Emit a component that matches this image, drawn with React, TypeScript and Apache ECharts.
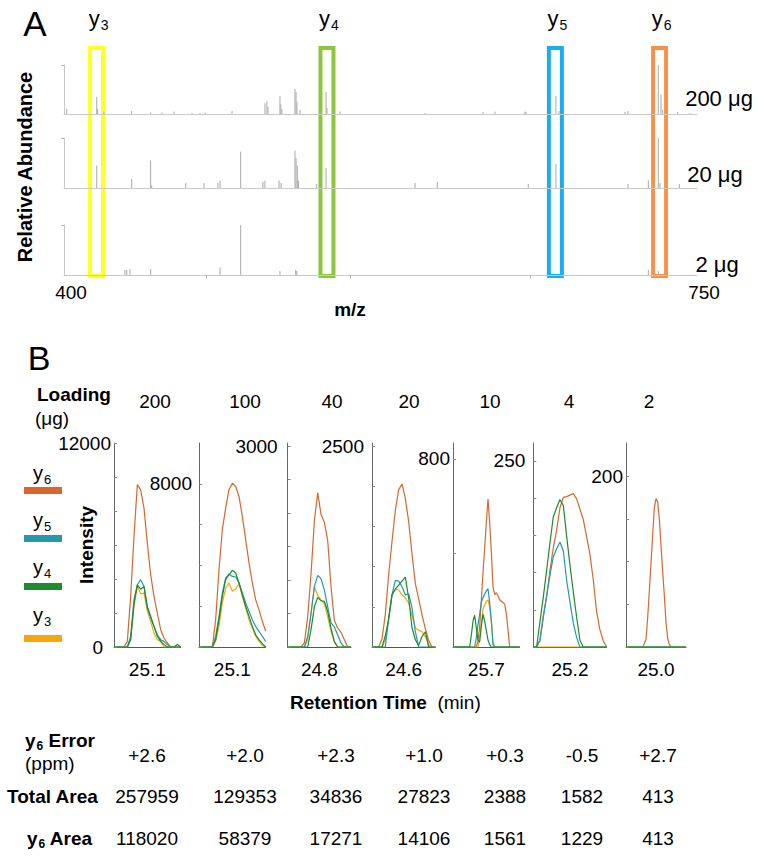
import React, { useEffect, useRef } from 'react';
import * as echarts from 'echarts';

const FONT = '"Liberation Sans", Arial, Helvetica, sans-serif';

// ---------------- Panel A: MS/MS spectra (m/z, relative abundance %) ----------------
const specMzMin = 400;
const specMzMax = 750;
const specLabelMz = [400, 750];
const specTickMz = [478.5, 558.2, 657.9];
const spectrumLabels = ['200 μg', '20 μg', '2 μg'];

const mz200 = [401.5, 418.1, 418.6, 422.1, 437.4, 447.9, 454.2, 460.8, 470.8, 475.2, 478.0, 492.9, 511.1, 512.2, 512.8, 519.4, 519.9, 520.5, 527.7, 528.3, 528.8, 530.5, 544.9, 545.4, 552.6, 599.6, 631.7, 638.3, 654.9, 655.4, 672.0, 673.7, 710.2, 711.8, 728.6, 730.1, 731.0, 739.3, 746.1];
const ab200 = [10, 35, 10, 5, 6, 3, 3, 5, 2, 2, 3, 6, 22, 26, 15, 36, 20, 10, 51, 45, 25, 8, 45, 12, 5, 2, 4, 5, 5, 4, 37, 6, 4, 6, 100, 40, 8, 4, 2];

const mz20 = [418.1, 437.4, 447.9, 448.5, 467.3, 477.4, 485.1, 486.3, 497.7, 510.0, 511.1, 518.9, 520.0, 527.7, 528.3, 529.0, 529.7, 539.7, 544.9, 594.1, 606.4, 656.7, 672.0, 711.8, 723.1, 728.6, 729.5, 740.2];
const ab20 = [45, 18, 55, 5, 10, 10, 10, 15, 73, 12, 15, 15, 10, 75, 60, 45, 15, 8, 40, 10, 12, 8, 48, 8, 15, 100, 10, 8];

const mz2 = [433.7, 434.7, 436.5, 447.9, 486.3, 497.7, 519.4, 528.1, 528.7, 723.1, 728.6];
const ab2 = [10, 10, 12, 12, 15, 100, 8, 10, 8, 10, 8];

const fragmentNumbers = ['3', '4', '5', '6'];
const fragmentMz = [418.0, 545.4, 671.7, 729.3];
const fragmentBoxColors = ['#FFFF22', '#8CC63F', '#1AAEEE', '#F7924A'];

// ---------------- Panel B: extracted ion chromatograms ----------------
const ionNames = ['y3', 'y4', 'y5', 'y6'];
const ionColors = ['#F9A60C', '#1E8B2E', '#2598AF', '#D9662C'];

const loadings = ['200', '100', '40', '20', '10', '4', '2'];
const rtApex = [25.1, 25.1, 24.8, 24.6, 25.7, 25.2, 25.0];
const rtStart = [24.9, 24.9, 24.61, 24.41, 25.5, 24.98, 24.82];
const rtEnd = [25.3, 25.3, 24.99, 24.79, 25.9, 25.42, 25.18];
const scanStep = [0.02, 0.02, 0.02, 0.02, 0.01, 0.02, 0.01];
const intensityMax = [12000, 10000, 3045, 2540, 868, 274, 239];
const intensityTicks = [
  [0, 2000, 4000, 6000, 8000, 10000, 12000],
  [0, 2000, 4000, 6000, 8000],
  [0, 500, 1000, 1500, 2000, 2500, 3000],
  [0, 500, 1000, 1500, 2000, 2500],
  [0, 400, 800],
  [0, 50, 100, 150, 200, 250],
  [0, 50, 100, 150, 200],
];
const intensityLabels = [[0, 12000], [8000], [3000], [2500], [800], [250], [200]];

// order inside each panel: y3, y4, y5, y6
const xic200 = [
  [0, 0, 0, 0, 0, 430, 2390, 3560, 3130, 3170, 2100, 1510, 820, 430, 330, 0, 0, 0, 0, 0, 0],
  [0, 0, 0, 0, 0, 430, 2580, 3660, 3400, 3560, 2390, 1800, 1210, 630, 330, 140, 0, 0, 0, 150, 0],
  [0, 0, 0, 0, 0, 630, 2780, 3660, 3960, 3560, 2290, 1700, 1210, 720, 430, 330, 140, 0, 0, 0, 0],
  [0, 0, 0, 0, 330, 2980, 6500, 9550, 9240, 8170, 6110, 4250, 2980, 2000, 1020, 530, 235, 0, 0, 0, 0],
];
const xic100 = [
  [0, 0, 0, 0, 0, 280, 1010, 2160, 2890, 3140, 2730, 2840, 3100, 2480, 1910, 1340, 930, 520, 280, 70, 0],
  [0, 0, 0, 0, 0, 360, 1340, 2480, 3300, 3540, 3760, 3630, 3140, 2560, 1990, 1500, 1010, 600, 360, 160, 0],
  [0, 0, 0, 0, 0, 520, 1500, 2650, 3380, 3580, 3460, 3430, 3140, 2650, 2160, 1750, 1340, 1010, 770, 520, 280],
  [0, 0, 0, 0, 0, 1340, 3790, 5750, 6810, 7710, 8030, 7870, 7380, 6400, 5260, 4120, 3140, 2320, 1830, 1260, 770],
];
const xic40 = [
  [0, 0, 0, 0, 0, 0, 110, 500, 900, 770, 700, 650, 450, 230, 80, 0, 0, 0, 0, 0],
  [0, 0, 0, 0, 0, 0, 0, 260, 600, 740, 690, 680, 530, 280, 80, 0, 0, 0, 0, 0],
  [0, 0, 0, 0, 0, 0, 160, 500, 900, 1070, 1020, 850, 600, 360, 300, 180, 60, 0, 0, 0],
  [0, 0, 0, 0, 0, 60, 450, 1090, 1880, 2300, 1980, 1860, 1590, 900, 400, 280, 220, 110, 0, 0],
];
const xic20 = [
  [0, 0, 0, 0, 90, 360, 640, 720, 710, 650, 610, 550, 390, 240, 210, 190, 130, 30, 0, 0],
  [0, 0, 0, 0, 140, 350, 650, 720, 770, 820, 870, 610, 240, 90, 20, 130, 190, 0, 0, 0],
  [0, 0, 0, 0, 0, 350, 650, 830, 820, 750, 650, 660, 490, 190, 0, 0, 0, 0, 0, 0],
  [0, 0, 0, 100, 410, 900, 1310, 1700, 1960, 2030, 1850, 1560, 1160, 790, 600, 400, 230, 80, 0, 0],
];
const xic10 = [
  [0, 0, 0, 0, 0, 0, 0, 0, 0, 0, 0, 0, 0, 0, 0, 0, 50, 100, 160, 180, 195, 200, 170, 110, 20, 0, 0, 0, 0, 0, 0, 0, 0, 0, 0, 0, 0, 0, 0, 0, 0],
  [0, 0, 0, 0, 0, 0, 0, 0, 0, 0, 0, 50, 110, 135, 80, 30, 20, 90, 140, 110, 70, 30, 10, 0, 0, 0, 0, 0, 0, 0, 0, 0, 0, 0, 0, 0, 0, 0, 0, 0, 0],
  [0, 0, 0, 0, 0, 0, 0, 0, 0, 0, 0, 0, 0, 0, 40, 95, 140, 190, 210, 225, 238, 248, 190, 110, 10, 0, 0, 0, 0, 0, 0, 0, 0, 0, 0, 0, 0, 0, 0, 0, 0],
  [0, 0, 0, 0, 0, 0, 0, 0, 0, 0, 0, 0, 0, 0, 0, 25, 86, 200, 316, 420, 529, 630, 530, 405, 257, 223, 231, 218, 201, 195, 189, 182, 142, 74, 0, 0, 0, 0, 0, 0, 0],
];
const xic4 = [
  [0, 0, 0, 0, 0, 0, 0, 0, 0, 0, 0, 0, 0, 0, 0, 0, 0, 0, 0, 0, 0, 0, 0],
  [0, 0, 34, 67, 103, 140, 175, 187, 198, 190, 149, 110, 74, 40, 9, 0, 0, 0, 0, 0, 0, 0, 0],
  [0, 0, 9, 39, 69, 97, 121, 132, 141, 129, 90, 60, 32, 13, 0, 0, 0, 0, 0, 0, 0, 0, 0],
  [0, 0, 9, 43, 67, 103, 133, 157, 187, 201, 202, 204, 206, 199, 185, 171, 148, 124, 90, 47, 23, 8, 0],
];
const xic2 = [
  [0, 0, 0, 0, 0, 0, 0, 0, 0, 0, 0, 0, 0, 0, 0, 0, 0, 0, 0, 0, 0, 0, 0, 0, 0, 0, 0, 0, 0, 0, 0, 0, 0, 0, 0, 0, 0],
  [0, 0, 0, 0, 0, 0, 0, 0, 0, 0, 0, 0, 0, 0, 0, 0, 0, 0, 0, 0, 0, 0, 0, 0, 0, 0, 0, 0, 0, 0, 0, 0, 0, 0, 0, 0, 0],
  [0, 0, 0, 0, 0, 0, 0, 0, 0, 0, 0, 0, 0, 0, 0, 0, 0, 0, 0, 0, 0, 0, 0, 0, 0, 0, 0, 0, 0, 0, 0, 0, 0, 0, 0, 0, 0],
  [0, 0, 0, 0, 0, 0, 0, 0, 0, 0, 0, 4, 9, 34, 66, 98, 131, 163, 174, 170, 150, 119, 89, 60, 29, 10, 3, 0, 0, 0, 0, 0, 0, 0, 0, 0, 0],
];
const xicPanels = [xic200, xic100, xic40, xic20, xic10, xic4, xic2];

// ---------------- Table ----------------
const y6ErrorPpm = ['+2.6', '+2.0', '+2.3', '+1.0', '+0.3', '-0.5', '+2.7'];
const totalArea = [257959, 129353, 34836, 27823, 2388, 1582, 413];
const y6Area = [118020, 58379, 17271, 14106, 1561, 1229, 413];

// ---------------- Layout ----------------
const pxPerMin = 500 / 3;
const bLeft = [114, 199, 287.7, 372, 453, 533.3, 626];
const bTop = 443;
const bHeight = 204;
const yLabelMargin = [3, 7, 10, 8, 3, 8, 3];
const headerX = [155, 245, 332, 409, 490, 569, 649];
const tableX = [147, 245, 336, 424, 505, 582, 658];
const drawOrder = [3, 0, 2, 1];

const subRich = (size: number, bold: boolean) => ({
  m: { fontSize: size, fontFamily: FONT, fontWeight: bold ? 'bold' : 'normal', fill: '#000', lineHeight: size + 4, verticalAlign: 'middle' },
  s: { fontSize: Math.round(size * 0.65), fontFamily: FONT, fontWeight: bold ? 'bold' : 'normal', fill: '#000', lineHeight: size + 5, verticalAlign: 'bottom', padding: [0, 0, 0, 1] },
});

export default function App() {
  const ref = useRef<HTMLDivElement>(null);
  useEffect(() => {
    const el = ref.current as HTMLDivElement;
    const chart = echarts.init(el, null, { renderer: 'svg' });
    const grid: any[] = [];
    const xAxis: any[] = [];
    const yAxis: any[] = [];
    const series: any[] = [];

    const aTop = [65, 138, 225];
    const aHeight = [49, 50, 50];
    const spectra = [[mz200, ab200], [mz20, ab20], [mz2, ab2]];
    spectra.forEach(([mz, ab], k) => {
      const last = k === 2;
      grid.push({ left: 64, width: 633, top: aTop[k], height: aHeight[k], containLabel: false, outerBoundsMode: 'none' });
      xAxis.push({
        gridIndex: k, type: 'value', min: specMzMin, max: specMzMax,
        axisLine: { show: true, lineStyle: { color: '#c9c9c9', width: 1 } },
        axisTick: last ? { show: true, customValues: specTickMz, length: 3, lineStyle: { color: '#b5b5b5' } } : { show: false },
        axisLabel: last
          ? { show: true, customValues: specLabelMz, fontSize: 19, fontFamily: FONT, color: '#000', margin: 8, padding: [0, 0, 0, 14] }
          : { show: false },
        splitLine: { show: false },
      });
      yAxis.push({
        gridIndex: k, type: 'value', min: 0, max: 100,
        axisLine: { show: true, lineStyle: { color: '#c9c9c9', width: 1 } },
        axisTick: { show: true, customValues: [100], length: 3, lineStyle: { color: '#b5b5b5' } },
        axisLabel: { show: false },
        splitLine: { show: false },
      });
      series.push({
        type: 'bar', xAxisIndex: k, yAxisIndex: k, barWidth: 1, silent: true,
        data: mz.map((m, i) => [m, ab[i]]),
        itemStyle: { color: '#a9a9a9' },
      });
    });

    xicPanels.forEach((traces, p) => {
      const g = 3 + p;
      const width = (rtEnd[p] - rtStart[p]) * pxPerMin;
      grid.push({ left: bLeft[p], top: bTop, width, height: bHeight, containLabel: false, outerBoundsMode: 'none' });
      xAxis.push({
        gridIndex: g, type: 'value', min: rtStart[p], max: rtEnd[p],
        axisLine: { show: true, lineStyle: { color: '#555', width: 1 } },
        axisTick: { show: false },
        axisLabel: {
          show: true, customValues: [rtApex[p]], formatter: (v: number) => v.toFixed(1),
          fontSize: 19, fontFamily: FONT, color: '#000', margin: 13,
        },
        splitLine: { show: false },
      });
      yAxis.push({
        gridIndex: g, type: 'value', min: 0, max: intensityMax[p],
        axisLine: { show: true, lineStyle: { color: '#666', width: 1 } },
        axisTick: { show: true, inside: true, customValues: intensityTicks[p], length: 3, lineStyle: { color: '#888' } },
        axisLabel: {
          show: true, customValues: intensityLabels[p], margin: yLabelMargin[p],
          fontSize: 19, fontFamily: FONT, color: '#000',
          formatter: (v: number) => (v === 0 ? '{z|0}' : String(v)),
          rich: { z: { fontSize: 19, fontFamily: FONT, color: '#000', padding: [0, 8, 0, 0] } },
        },
        splitLine: { show: false },
      });
      drawOrder.forEach((ionIdx) => {
        const vals = traces[ionIdx];
        series.push({
          type: 'line', name: ionNames[ionIdx], xAxisIndex: g, yAxisIndex: g,
          showSymbol: false, symbol: 'none', silent: true,
          data: vals.map((v, i) => [+(rtStart[p] + i * scanStep[p]).toFixed(3), v]),
          lineStyle: { color: ionColors[ionIdx], width: 1.2 },
          itemStyle: { color: ionColors[ionIdx] },
        });
      });
    });

    chart.setOption({ animation: false, grid, xAxis, yAxis, series });

    const boxX = fragmentMz.map((m) => chart.convertToPixel({ xAxisIndex: 0 }, m) as number);
    const graphic: any[] = [];
    const txt = (x: number, y: number, text: string, size: number, opts: any = {}) => ({
      type: 'text', x, y, rotation: opts.rotation || 0,
      style: {
        text, fontSize: size, fontFamily: FONT, fontWeight: opts.bold ? 'bold' : 'normal', fill: '#000',
        align: opts.align || 'center', verticalAlign: 'middle', rich: opts.rich,
      },
    });

    graphic.push(txt(35, 23, 'A', 35));
    graphic.push(txt(39, 358, 'B', 34));
    graphic.push(txt(25, 167, 'Relative Abundance', 20, { bold: true, rotation: Math.PI / 2 }));
    graphic.push(txt(350, 309, 'm/z', 19, { bold: true }));
    const specLabelPos = [[719, 98], [715, 174], [717, 264]];
    spectrumLabels.forEach((s, k) => graphic.push(txt(specLabelPos[k][0], specLabelPos[k][1], s, 22)));

    fragmentMz.forEach((_, i) => {
      graphic.push({
        type: 'rect', shape: { x: boxX[i] - 6.5, y: 48, width: 13, height: 228 },
        style: { fill: 'none', stroke: fragmentBoxColors[i], lineWidth: 4 },
      });
      graphic.push(txt(boxX[i] + 2, 18, `{m|y}{s|${fragmentNumbers[i]}}`, 22, { rich: subRich(22, false) }));
    });

    graphic.push(txt(37, 394, 'Loading', 19, { bold: true, align: 'left' }));
    graphic.push(txt(35, 418, '(μg)', 19, { align: 'left' }));
    loadings.forEach((l, p) => graphic.push(txt(headerX[p], 401, l, 19)));

    const legTextY = [615, 567, 520, 473];
    const legBarY = [635, 583, 535, 487];
    ionNames.forEach((n, i) => {
      graphic.push(txt(42, legTextY[i], `{m|y}{s|${n.slice(1)}}`, 20, { rich: subRich(20, false) }));
      graphic.push({ type: 'rect', shape: { x: 24, y: legBarY[i], width: 38, height: 7 }, style: { fill: ionColors[i] } });
    });
    graphic.push(txt(86, 545, 'Intensity', 19, { bold: true, rotation: Math.PI / 2 }));

    graphic.push(txt(290, 702, '{b|Retention Time}{n|  (min)}', 19, {
      align: 'left',
      rich: {
        b: { fontSize: 19, fontFamily: FONT, fontWeight: 'bold', fill: '#000' },
        n: { fontSize: 19, fontFamily: FONT, fill: '#000' },
      },
    }));

    graphic.push(txt(25, 740, '{m|y}{s|6}{m| Error}', 19, { bold: true, align: 'left', rich: subRich(19, true) }));
    graphic.push(txt(25, 763, '(ppm)', 19, { align: 'left' }));
    graphic.push(txt(7, 796, 'Total Area', 19, { bold: true, align: 'left' }));
    graphic.push(txt(27, 838, '{m|y}{s|6}{m| Area}', 19, { bold: true, align: 'left', rich: subRich(19, true) }));
    y6ErrorPpm.forEach((v, p) => graphic.push(txt(tableX[p], 755, v, 19)));
    totalArea.forEach((v, p) => graphic.push(txt(tableX[p], 796, String(v), 19)));
    y6Area.forEach((v, p) => graphic.push(txt(tableX[p], 838, String(v), 19)));

    chart.setOption({ graphic });
    return () => chart.dispose();
  }, []);
  return <div ref={ref} style={{ position: 'fixed', left: 0, top: 0, width: 764, height: 858, background: '#fff' }} />;
}
